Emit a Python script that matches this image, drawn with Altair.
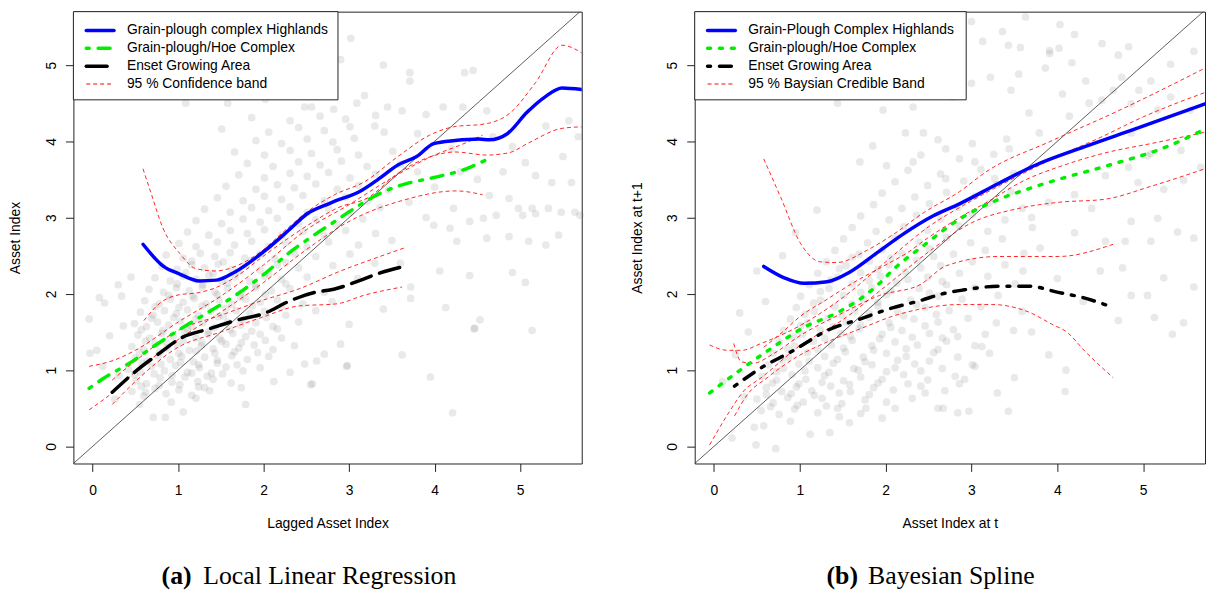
import altair as alt
import pandas as pd

# ---------------------------------------------------------------
# values (x, y) -- panel (a) local linear fit
# ---------------------------------------------------------------
LLR_HIGHLANDS = [(0.59, 2.65), (0.83, 2.36), (1.02, 2.26), (1.25, 2.17), (1.45, 2.18), (1.67, 2.29),
                 (2.02, 2.57), (2.29, 2.83), (2.51, 3.05), (2.78, 3.19), (3.15, 3.36), (3.35, 3.51),
                 (3.57, 3.69), (3.79, 3.80), (3.99, 3.97), (4.24, 4.01), (4.52, 4.03), (4.64, 4.02),
                 (4.85, 4.10), (5.08, 4.38), (5.30, 4.59), (5.49, 4.70), (5.72, 4.68)]
LLR_HOE = [(-0.04, 0.76), (0.14, 0.90), (0.43, 1.09), (0.74, 1.33), (1.00, 1.52), (1.31, 1.73),
           (1.56, 1.90), (1.76, 2.05), (2.02, 2.27), (2.29, 2.53), (2.55, 2.74), (2.82, 2.94),
           (3.13, 3.17), (3.35, 3.31), (3.62, 3.43), (3.97, 3.52), (4.37, 3.64), (4.59, 3.75)]
LLR_ENSET = [(0.23, 0.71), (0.52, 1.00), (0.78, 1.22), (1.05, 1.43), (1.36, 1.54), (1.67, 1.65),
             (2.02, 1.75), (2.29, 1.90), (2.60, 2.02), (2.82, 2.06), (3.09, 2.16), (3.35, 2.27),
             (3.64, 2.36)]

LLR_BANDS = {
    "hi_up": [(0.59, 3.64), (0.69, 3.30), (0.82, 2.87), (1.02, 2.53), (1.21, 2.33), (1.44, 2.30),
              (1.71, 2.38), (1.94, 2.53), (2.25, 2.83), (2.49, 3.06), (2.83, 3.30), (3.18, 3.47),
              (3.57, 3.80), (3.94, 4.08), (4.22, 4.19), (4.60, 4.23), (4.87, 4.36), (5.18, 4.77),
              (5.49, 5.26), (5.72, 5.16)],
    "hi_lo": [(0.60, 1.65), (0.79, 1.88), (1.02, 1.99), (1.21, 2.01), (1.48, 2.10), (1.71, 2.25),
              (1.98, 2.48), (2.25, 2.70), (2.56, 2.93), (2.87, 3.13), (3.22, 3.26), (3.57, 3.58),
              (3.93, 3.79), (4.24, 3.86), (4.61, 3.82), (4.87, 3.85), (5.10, 3.98), (5.49, 4.17),
              (5.72, 4.19)],
    "hoe_up": [(-0.04, 1.05), (0.25, 1.13), (0.50, 1.26), (1.00, 1.63), (1.50, 1.97), (2.00, 2.38),
               (2.50, 2.84), (3.00, 3.17), (3.50, 3.52), (4.02, 3.83), (4.30, 3.95), (4.56, 4.08)],
    "hoe_lo": [(-0.04, 0.48), (0.25, 0.72), (0.50, 0.98), (1.00, 1.40), (1.50, 1.76), (2.00, 2.15),
               (2.50, 2.58), (3.00, 2.95), (3.64, 3.23), (4.25, 3.35), (4.56, 3.30)],
    "en_up": [(0.23, 0.87), (0.50, 1.12), (1.00, 1.52), (1.50, 1.72), (2.00, 1.92), (2.40, 2.06),
              (2.90, 2.30), (3.26, 2.45), (3.64, 2.60)],
    "en_lo": [(0.23, 0.55), (0.50, 0.85), (1.00, 1.30), (1.50, 1.50), (2.00, 1.70), (2.40, 1.84),
              (2.86, 1.87), (3.17, 1.98), (3.62, 2.09)],
}

LLR_CLOUD = [
    (-0.04, 1.67), (-0.03, 1.22), (0.05, 1.26), (0.14, 1.88), (0.34, 1.97), (0.08, 1.95), (0.20, 1.45),
    (0.26, 0.62), (0.36, 1.58), (0.30, 2.12), (0.45, 2.22), (0.12, 1.05), (0.31, 0.93),
    (0.71, 0.38), (0.85, 0.38), (1.06, 0.45), (1.79, 0.55), (2.12, 0.85), (1.74, 0.77), (1.37, 0.73),
    (0.55, 0.55), (0.62, 0.71), (0.92, 0.58), (1.21, 0.63), (2.55, 0.81), (2.97, 1.05), (3.62, 1.20),
    (3.95, 0.91), (4.21, 0.44), (4.46, 1.54), (5.14, 1.52), (4.13, 1.82), (2.31, 0.97), (2.62, 1.12),
    (0.46, 0.72), (0.60, 0.66), (0.73, 0.76), (0.86, 0.69), (1.01, 0.74), (1.16, 0.67), (1.31, 0.77),
    (0.51, 0.86), (0.63, 0.82), (0.79, 0.90), (0.93, 0.84), (1.08, 0.91), (1.23, 0.85), (1.41, 0.88), (1.62, 0.83),
    (0.42, 1.01), (0.56, 0.97), (0.69, 1.05), (0.84, 0.99), (0.97, 1.06), (1.11, 0.97), (1.25, 1.03),
    (1.39, 0.96), (1.56, 1.04), (1.76, 0.99), (1.96, 1.03),
    (0.50, 1.16), (0.64, 1.12), (0.77, 1.19), (0.91, 1.14), (1.04, 1.18), (1.18, 1.11), (1.31, 1.17),
    (1.46, 1.13), (1.63, 1.19), (1.81, 1.14), (2.06, 1.18),
    (0.46, 1.31), (0.60, 1.27), (0.73, 1.34), (0.87, 1.29), (0.99, 1.33), (1.13, 1.26), (1.27, 1.32),
    (1.41, 1.28), (1.56, 1.34), (1.71, 1.29), (1.89, 1.33), (2.11, 1.27), (2.36, 1.32),
    (0.53, 1.46), (0.67, 1.42), (0.81, 1.48), (0.94, 1.44), (1.08, 1.49), (1.21, 1.42), (1.35, 1.47),
    (1.49, 1.41), (1.64, 1.48), (1.79, 1.44), (1.96, 1.47), (2.21, 1.42),
    (0.49, 1.61), (0.63, 1.57), (0.76, 1.63), (0.89, 1.59), (1.03, 1.64), (1.16, 1.57), (1.29, 1.62),
    (1.43, 1.56), (1.58, 1.63), (1.73, 1.59), (1.91, 1.62), (2.11, 1.57), (2.41, 1.63),
    (0.56, 1.76), (0.71, 1.72), (0.84, 1.78), (0.98, 1.74), (1.11, 1.79), (1.24, 1.72), (1.38, 1.77),
    (1.53, 1.71), (1.68, 1.78), (1.84, 1.74), (2.01, 1.77), (2.26, 1.72), (2.61, 1.78),
    (0.61, 1.91), (0.78, 1.87), (0.91, 1.93), (1.06, 1.89), (1.19, 1.94), (1.33, 1.87), (1.48, 1.92),
    (1.63, 1.86), (1.79, 1.93), (1.96, 1.89), (2.16, 1.92), (2.46, 1.87),
    (0.66, 2.06), (0.83, 2.02), (0.98, 2.08), (1.13, 2.04), (1.28, 2.09), (1.43, 2.02), (1.58, 2.07),
    (1.74, 2.01), (1.91, 2.08), (2.09, 2.04), (2.31, 2.07), (2.71, 2.02),
    (0.73, 2.21), (0.91, 2.17), (1.06, 2.23), (1.21, 2.19), (1.36, 2.24), (1.51, 2.17), (1.67, 2.22),
    (1.84, 2.16), (2.01, 2.23), (2.21, 2.19), (2.51, 2.22),
    (0.81, 2.36), (0.99, 2.32), (1.16, 2.38), (1.31, 2.34), (1.47, 2.39), (1.63, 2.32), (1.79, 2.37),
    (1.96, 2.31), (2.16, 2.38), (2.41, 2.34), (2.81, 2.37),
    (0.86, 2.51), (1.06, 2.47), (1.26, 2.53), (1.43, 2.49), (1.61, 2.54), (1.78, 2.47), (1.96, 2.52),
    (2.13, 2.46), (2.36, 2.53), (2.61, 2.49), (3.01, 2.52),
    (0.57, 0.79), (0.78, 0.80), (1.02, 0.81), (1.24, 0.78),
    (0.49, 0.94), (0.72, 0.95), (0.93, 0.93), (1.16, 0.96), (1.34, 0.92), (1.52, 0.95),
    (0.58, 1.09), (0.80, 1.08), (1.03, 1.10), (1.24, 1.07), (1.46, 1.09), (1.69, 1.07),
    (0.55, 1.23), (0.79, 1.24), (1.01, 1.22), (1.21, 1.25), (1.43, 1.22), (1.66, 1.24), (1.93, 1.23),
    (0.62, 1.38), (0.86, 1.37), (1.06, 1.39), (1.28, 1.36), (1.51, 1.38), (1.74, 1.36), (2.02, 1.39),
    (0.57, 1.53), (0.82, 1.52), (1.11, 1.54), (1.36, 1.51), (1.61, 1.53), (1.86, 1.51), (2.16, 1.54),
    (0.69, 1.68), (0.95, 1.69), (1.21, 1.67), (1.47, 1.70), (1.76, 1.66), (2.03, 1.69),
    (0.73, 1.83), (1.01, 1.82), (1.28, 1.84), (1.56, 1.81), (1.87, 1.84), (2.21, 1.82),
    (0.89, 1.98), (1.17, 1.97), (1.46, 1.99), (1.73, 1.96), (2.02, 1.99),
    (0.99, 2.13), (1.29, 2.12), (1.58, 2.14), (1.91, 2.11), (2.26, 2.13),
    (1.09, 2.28), (1.41, 2.27), (1.71, 2.29), (2.06, 2.26),
    (1.16, 2.43), (1.53, 2.42), (1.86, 2.44), (2.26, 2.41),
    (1.01, 2.66), (1.21, 2.62), (1.46, 2.68), (1.66, 2.64), (1.86, 2.69), (2.06, 2.62), (2.26, 2.67),
    (2.51, 2.61), (2.76, 2.68), (3.11, 2.64),
    (1.11, 2.81), (1.36, 2.77), (1.61, 2.83), (1.81, 2.79), (2.01, 2.84), (2.21, 2.77), (2.46, 2.82),
    (2.71, 2.76), (2.96, 2.83), (3.31, 2.79),
    (1.21, 2.96), (1.51, 2.92), (1.76, 2.98), (1.96, 2.94), (2.16, 2.99), (2.41, 2.92), (2.61, 2.97),
    (2.86, 2.91), (3.16, 2.98),
    (1.31, 3.11), (1.61, 3.07), (1.86, 3.13), (2.06, 3.09), (2.31, 3.14), (2.51, 3.07), (2.76, 3.12),
    (3.01, 3.06), (3.36, 3.13),
    (1.46, 3.26), (1.76, 3.22), (2.01, 3.28), (2.21, 3.24), (2.46, 3.29), (2.71, 3.22), (2.96, 3.27),
    (3.21, 3.21),
    (1.56, 3.41), (1.91, 3.37), (2.16, 3.43), (2.36, 3.39), (2.61, 3.44), (2.86, 3.37), (3.11, 3.42),
    (3.46, 3.36),
    (1.71, 3.56), (2.01, 3.52), (2.31, 3.58), (2.51, 3.54), (2.76, 3.59), (3.01, 3.52), (3.31, 3.57),
    (1.81, 3.71), (2.11, 3.67), (2.41, 3.73), (2.66, 3.69), (2.91, 3.74), (3.21, 3.67),
    (1.66, 3.86), (2.01, 3.82), (2.31, 3.88), (2.56, 3.84), (2.86, 3.89), (3.11, 3.82), (3.51, 3.87),
    (1.91, 4.01), (2.21, 3.97), (2.51, 4.03), (2.81, 3.99), (3.06, 4.04),
    (1.51, 4.16), (2.06, 4.12), (2.41, 4.18), (2.71, 4.14), (3.01, 4.19), (3.41, 4.12),
    (1.86, 4.31), (2.31, 4.27), (2.66, 4.33), (2.96, 4.29), (3.31, 4.34),
    (1.09, 4.50), (1.58, 4.50), (2.02, 4.55), (2.56, 4.45), (2.82, 4.42), (3.09, 4.50), (3.45, 4.45),
    (3.62, 4.40), (3.02, 5.35), (2.90, 5.07), (3.71, 4.90), (3.71, 4.79), (4.35, 4.90), (4.45, 4.93),
    (3.18, 4.60), (2.48, 4.45), (4.10, 4.45), (4.33, 4.45), (4.61, 4.40), (2.30, 4.75), (1.70, 4.70),
    (2.70, 4.85), (3.40, 5.00), (2.00, 5.05), (3.30, 4.20), (3.90, 4.35),
    (5.57, 4.27), (5.68, 4.06), (4.68, 4.06), (4.91, 3.93), (5.06, 3.72), (5.18, 3.55), (5.37, 3.46),
    (5.60, 3.46), (4.64, 3.29), (4.87, 3.25), (4.98, 3.12), (5.14, 3.12), (5.18, 3.05), (5.33, 3.12),
    (5.48, 3.07), (5.64, 3.07), (5.70, 3.03), (4.22, 3.12), (4.41, 2.95), (4.57, 2.99), (4.72, 3.03),
    (5.03, 3.03), (3.99, 2.90), (4.18, 2.86), (4.26, 2.69), (4.61, 2.73), (4.87, 2.75), (5.10, 2.69),
    (5.30, 2.64), (5.45, 2.77), (4.06, 2.30), (4.41, 2.24), (4.91, 2.28), (5.06, 2.15), (4.53, 1.66),
    (4.47, 1.55), (3.72, 2.09), (3.72, 1.94), (2.98, 1.06), (2.57, 0.82),
    (2.48, 1.08), (2.90, 1.34), (2.71, 1.21), (3.60, 3.70), (3.80, 3.60), (4.00, 3.40), (3.70, 3.20),
    (3.90, 3.00), (3.50, 2.70), (3.30, 2.40), (3.10, 2.20), (3.40, 1.80), (3.00, 1.60), (2.80, 1.90),
    (3.60, 2.40), (4.30, 3.60), (4.50, 3.50), (3.80, 4.10), (4.20, 3.90), (5.30, 4.20), (5.50, 3.80),
    (4.80, 3.60),
]

# ---------------------------------------------------------------
# panel (b) bayesian spline
# ---------------------------------------------------------------
BS_HIGHLANDS = [(0.58, 2.36), (0.82, 2.21), (1.05, 2.14), (1.32, 2.16), (1.59, 2.29), (1.89, 2.53),
                (2.20, 2.78), (2.55, 3.02), (2.86, 3.18), (3.32, 3.45), (3.73, 3.68), (4.32, 3.93),
                (4.90, 4.16), (5.72, 4.49)]
BS_HOE = [(-0.05, 0.70), (0.28, 0.98), (0.66, 1.28), (1.05, 1.56), (1.43, 1.75), (1.66, 1.90),
          (1.93, 2.14), (2.09, 2.32), (2.45, 2.64), (2.86, 2.98), (3.32, 3.24), (3.67, 3.38),
          (4.01, 3.50), (4.55, 3.67), (5.32, 3.95), (5.72, 4.16)]
BS_ENSET = [(0.24, 0.79), (0.55, 1.03), (0.93, 1.26), (1.32, 1.52), (1.70, 1.67), (2.09, 1.82),
            (2.40, 1.91), (2.66, 2.00), (2.90, 2.05), (3.32, 2.10), (3.67, 2.10), (4.01, 2.02),
            (4.30, 1.95), (4.58, 1.85)]

BS_BANDS = {
    "hi_up": [(0.58, 3.77), (0.78, 3.26), (1.01, 2.66), (1.24, 2.42), (1.43, 2.41), (1.78, 2.57),
              (2.09, 2.78), (2.45, 3.07), (2.86, 3.34), (3.17, 3.60), (3.94, 4.01), (4.71, 4.40),
              (5.72, 4.96)],
    "hi_lo": [(0.58, 1.30), (0.80, 1.50), (1.00, 1.70), (1.32, 1.93), (1.60, 2.13), (2.00, 2.38),
              (2.24, 2.53), (2.50, 2.74), (2.86, 3.00), (3.24, 3.24), (3.55, 3.45), (4.11, 3.70),
              (4.60, 3.86), (5.09, 3.97), (5.72, 4.12)],
    "hoe_up": [(-0.05, 1.33), (0.16, 1.26), (0.32, 1.26), (0.55, 1.35), (0.93, 1.54), (1.50, 1.95),
               (2.00, 2.42), (2.50, 2.88), (3.00, 3.22), (3.50, 3.52), (4.00, 3.80), (4.50, 4.05),
               (5.00, 4.32), (5.72, 4.64)],
    "hoe_lo": [(-0.05, 0.02), (0.16, 0.42), (0.35, 0.73), (0.55, 0.90), (1.00, 1.32), (1.50, 1.66),
               (2.00, 2.10), (2.50, 2.55), (2.98, 2.92), (3.55, 3.12), (4.01, 3.20), (4.55, 3.24),
               (5.09, 3.41), (5.72, 3.64)],
    "en_up": [(0.23, 1.35), (0.32, 1.11), (0.45, 1.09), (0.70, 1.22), (1.00, 1.45), (1.50, 1.75),
              (1.93, 1.98), (2.40, 2.12), (2.71, 2.37), (3.32, 2.49), (4.01, 2.49), (4.65, 2.65)],
    "en_lo": [(0.24, 0.40), (0.39, 0.68), (0.62, 0.90), (0.93, 1.15), (1.32, 1.37), (1.70, 1.54),
              (2.09, 1.71), (2.40, 1.80), (2.86, 1.86), (3.24, 1.86), (3.67, 1.76), (3.94, 1.60),
              (4.11, 1.50), (4.32, 1.25), (4.65, 0.90)],
}

BS_CLOUD = [
    (0.49, 0.02), (0.72, -0.03), (0.21, 0.11), (0.47, 0.25), (0.58, 0.27), (0.89, 0.33), (1.12, 0.16),
    (1.35, 0.18), (1.58, 0.31), (1.46, 0.39), (1.77, 0.50), (1.96, 0.37), (2.11, 0.50), (2.46, 0.70),
    (2.61, 0.50), (2.84, 0.44), (2.92, 0.88), (3.04, 1.05), (3.12, 1.31), (2.84, 1.44), (0.10, 0.85),
    (0.25, 1.20), (0.35, 0.65), (0.40, 1.50), (0.60, 1.90), (0.30, 1.75), (0.80, 2.50), (0.50, 2.30),
    (0.95, 2.80), (1.20, 3.10), (4.09, 0.72), (2.97, 0.46), (2.67, 0.50), (2.86, 0.82), (3.43, 0.46),
    (0.55, 0.47), (0.76, 0.42), (0.94, 0.49), (1.21, 0.44), (1.44, 0.50), (1.71, 0.43),
    (0.50, 0.62), (0.69, 0.57), (0.86, 0.64), (1.04, 0.58), (1.26, 0.63), (1.49, 0.56), (1.76, 0.61),
    (2.01, 0.58), (2.31, 0.63),
    (0.61, 0.77), (0.79, 0.72), (0.96, 0.78), (1.14, 0.73), (1.36, 0.79), (1.59, 0.72), (1.86, 0.77),
    (2.09, 0.74), (2.41, 0.79), (2.69, 0.73),
    (0.56, 0.92), (0.73, 0.87), (0.91, 0.94), (1.07, 0.88), (1.29, 0.93), (1.51, 0.86), (1.71, 0.91),
    (1.96, 0.88), (2.21, 0.94), (2.49, 0.87), (2.81, 0.92),
    (0.63, 1.07), (0.81, 1.02), (0.99, 1.08), (1.21, 1.03), (1.39, 1.09), (1.63, 1.02), (1.84, 1.07),
    (2.11, 1.03), (2.34, 1.08), (2.66, 1.02), (3.01, 1.07),
    (0.69, 1.22), (0.87, 1.17), (1.09, 1.23), (1.29, 1.18), (1.53, 1.24), (1.74, 1.17), (2.01, 1.22),
    (2.24, 1.18), (2.56, 1.23), (2.84, 1.17), (3.21, 1.22),
    (0.76, 1.37), (0.94, 1.32), (1.16, 1.38), (1.37, 1.33), (1.61, 1.39), (1.84, 1.32), (2.11, 1.37),
    (2.37, 1.33), (2.71, 1.38), (3.04, 1.32),
    (0.81, 1.52), (1.03, 1.47), (1.24, 1.53), (1.48, 1.48), (1.69, 1.54), (1.96, 1.47), (2.19, 1.52),
    (2.51, 1.48), (2.79, 1.53), (3.16, 1.47), (3.49, 1.52),
    (0.89, 1.67), (1.09, 1.62), (1.33, 1.68), (1.54, 1.63), (1.81, 1.69), (2.04, 1.62), (2.33, 1.67),
    (2.61, 1.63), (2.96, 1.68), (3.29, 1.62),
    (0.96, 1.82), (1.17, 1.77), (1.41, 1.83), (1.64, 1.78), (1.91, 1.84), (2.14, 1.77), (2.46, 1.82),
    (2.74, 1.78), (3.11, 1.83), (3.59, 1.77),
    (1.01, 1.97), (1.24, 1.92), (1.51, 1.98), (1.74, 1.93), (2.01, 1.99), (2.29, 1.92), (2.61, 1.97),
    (2.89, 1.93), (3.31, 1.98),
    (1.11, 2.12), (1.34, 2.07), (1.61, 2.13), (1.84, 2.08), (2.13, 2.14), (2.39, 2.07), (2.71, 2.12),
    (3.04, 2.08), (3.51, 2.13),
    (1.21, 2.27), (1.44, 2.22), (1.71, 2.28), (1.94, 2.23), (2.23, 2.29), (2.49, 2.22), (2.86, 2.27),
    (3.19, 2.23),
    (1.31, 2.42), (1.54, 2.37), (1.81, 2.43), (2.04, 2.38), (2.36, 2.44), (2.64, 2.37), (3.01, 2.42),
    (3.39, 2.38),
    (1.41, 2.57), (1.69, 2.52), (1.96, 2.58), (2.19, 2.53), (2.51, 2.59), (2.79, 2.52), (3.16, 2.57),
    (3.61, 2.53),
    (1.51, 2.72), (1.79, 2.67), (2.11, 2.73), (2.39, 2.68), (2.71, 2.74), (2.99, 2.67), (3.36, 2.72),
    (1.61, 2.87), (1.89, 2.82), (2.21, 2.88), (2.49, 2.83), (2.86, 2.89), (3.19, 2.82), (3.71, 2.87),
    (1.71, 3.02), (2.04, 2.97), (2.36, 3.03), (2.64, 2.98), (3.01, 3.04), (3.39, 2.97),
    (1.86, 3.17), (2.19, 3.12), (2.51, 3.18), (2.84, 3.13), (3.21, 3.19), (3.59, 3.12),
    (1.96, 3.32), (2.34, 3.27), (2.71, 3.33), (3.04, 3.28), (3.46, 3.34),
    (2.11, 3.47), (2.49, 3.42), (2.91, 3.48), (3.29, 3.43),
    (2.26, 3.62), (2.64, 3.57), (3.11, 3.63), (3.49, 3.58),
    (2.41, 3.82), (2.86, 3.77), (3.26, 3.83),
    (2.61, 4.02), (3.01, 3.97), (3.41, 4.03),
    (0.66, 0.52), (0.97, 0.54), (1.31, 0.53),
    (0.61, 0.68), (0.90, 0.69), (1.17, 0.67), (1.46, 0.70), (1.81, 0.68),
    (0.68, 0.83), (0.99, 0.82), (1.26, 0.84), (1.58, 0.81), (1.91, 0.83), (2.26, 0.82),
    (0.73, 0.98), (1.06, 0.99), (1.34, 0.97), (1.68, 1.00), (2.01, 0.98), (2.41, 0.99),
    (0.79, 1.13), (1.11, 1.12), (1.44, 1.14), (1.76, 1.11), (2.14, 1.13), (2.51, 1.12),
    (0.86, 1.28), (1.21, 1.27), (1.51, 1.29), (1.86, 1.26), (2.24, 1.28), (2.61, 1.27),
    (0.93, 1.43), (1.29, 1.42), (1.59, 1.44), (1.93, 1.41), (2.31, 1.43), (2.66, 1.42),
    (1.01, 1.58), (1.39, 1.57), (1.71, 1.59), (2.06, 1.56), (2.46, 1.58),
    (1.06, 1.73), (1.49, 1.72), (1.81, 1.74), (2.21, 1.71), (2.59, 1.73),
    (1.16, 1.88), (1.61, 1.87), (1.91, 1.89), (2.36, 1.86),
    (1.24, 2.03), (1.71, 2.02), (2.06, 2.04), (2.51, 2.01),
    (1.36, 2.18), (1.81, 2.17), (2.26, 2.19), (2.66, 2.16),
    (1.46, 2.33), (1.91, 2.32), (2.41, 2.34),
    (1.61, 2.48), (2.06, 2.47), (2.56, 2.49),
    (4.71, 1.65), (4.86, 1.98), (5.05, 1.98), (5.13, 1.69), (5.34, 1.47), (5.47, 1.62), (5.59, 2.09),
    (5.24, 2.21), (4.76, 2.34), (5.09, 2.69), (4.79, 2.69), (5.17, 2.99), (5.40, 2.81), (5.59, 2.73),
    (4.86, 2.95), (4.56, 2.69), (4.40, 3.12), (4.94, 3.46), (5.24, 3.37), (5.47, 3.49), (5.67, 3.66),
    (5.44, 3.88), (5.09, 3.84), (4.83, 3.66), (4.56, 3.55),
    (3.60, 2.30), (3.80, 2.60), (4.00, 2.20), (4.20, 2.80), (3.70, 1.50), (3.90, 1.20), (4.30, 1.90),
    (4.10, 1.00), (3.50, 0.90), (3.30, 0.70), (4.50, 2.30), (3.90, 3.20), (4.20, 3.30), (3.70, 3.00),
    (3.91, 5.15), (4.02, 5.22), (4.52, 5.28), (4.71, 5.13), (4.83, 5.24), (4.17, 5.03), (3.86, 4.96),
    (3.55, 4.88), (3.43, 5.26), (3.63, 5.63), (2.82, 5.54), (4.06, 4.62), (4.52, 4.54), (4.75, 4.84),
    (4.86, 4.49), (5.09, 4.79), (5.32, 5.01), (5.59, 5.18), (5.55, 4.41), (5.32, 4.58), (4.33, 4.79),
    (3.00, 5.57), (3.13, 5.31), (3.36, 5.44), (4.03, 5.53), (4.20, 5.40), (3.91, 5.19), (3.57, 5.23),
    (1.44, 4.50), (1.97, 4.41), (2.32, 4.45), (2.44, 4.11), (2.78, 4.58), (3.00, 4.76), (3.22, 4.84),
    (3.46, 4.67), (3.67, 4.37), (2.70, 3.90), (2.23, 4.11), (1.85, 3.94), (1.70, 3.73), (2.01, 3.68),
    (2.32, 3.73), (2.70, 3.51), (3.04, 3.73), (3.27, 3.51), (3.44, 3.90), (3.79, 4.11), (4.14, 4.33),
    (4.37, 4.50), (4.65, 4.67), (4.95, 4.67), (5.17, 4.41), (4.86, 4.11), (5.05, 3.81),
]

TICKS = [0, 1, 2, 3, 4, 5]
DIAG = [-0.5, 6.0]

SANS = "Liberation Sans"
SERIF = "Liberation Serif"
W_LEFT, W_RIGHT, H = 513, 515, 456


def to_df(pts, name="c"):
    return pd.DataFrame({"x": [p[0] for p in pts], "y": [p[1] for p in pts], "curve": name})


def panel(cloud, fits, bands, xtitle, ytitle, legend, legend_w, tag, caption, cap_x, width):
    xs = alt.Scale(domain=[-0.224, 5.72], nice=False, zero=False)
    ys = alt.Scale(domain=[-0.224, 5.70], nice=False, zero=False)
    xax = alt.Axis(title=xtitle, values=TICKS, grid=False, domain=False, tickSize=8,
                   tickColor="#222", labelPadding=12, titlePadding=20, labelFlush=False)
    yax = alt.Axis(title=ytitle, values=TICKS, grid=False, domain=False, tickSize=8,
                   tickColor="#222", labelAngle=270, labelAlign="center", labelBaseline="bottom",
                   labelPadding=7, titlePadding=22, labelFlush=False)
    X = alt.X("x:Q", scale=xs, axis=xax)
    Y = alt.Y("y:Q", scale=ys, axis=yax)

    layers = [
        alt.Chart(to_df(cloud)).mark_circle(size=60, color="#7a7a7a", opacity=0.17).encode(x=X, y=Y),
        alt.Chart(pd.DataFrame({"x": DIAG, "y": DIAG})).mark_line(
            color="#333333", strokeWidth=0.8, clip=True).encode(x=X, y=Y),
    ]
    band_df = pd.concat([to_df(v, k) for k, v in bands.items()])
    layers.append(alt.Chart(band_df).mark_line(
        color="#ff0000", strokeWidth=1, strokeDash=[4, 3], clip=True, interpolate="monotone",
        opacity=0.85).encode(x=X, y=Y, detail="curve:N"))
    for pts, color, dash in fits:
        kw = dict(color=color, strokeWidth=3.5, clip=True, interpolate="monotone", strokeCap="round")
        if dash:
            kw["strokeDash"] = dash
        layers.append(alt.Chart(to_df(pts)).mark_line(**kw).encode(x=X, y=Y))

    # legend box drawn the way R's legend() does it
    one = pd.DataFrame({"k": [0]})
    layers.append(alt.Chart(one).mark_rect(fill="white", stroke="#222", strokeWidth=1).encode(
        x=alt.value(0), x2=alt.value(legend_w), y=alt.value(0), y2=alt.value(89)))
    for i, (label, color, sw, dash) in enumerate(legend):
        row = 19 + 18 * i
        kw = dict(color=color, strokeWidth=sw, strokeCap="round" if sw > 2 else "butt")
        if dash:
            kw["strokeDash"] = dash
        layers.append(alt.Chart(one).mark_rule(**kw).encode(
            x=alt.value(13), x2=alt.value(41), y=alt.value(row)))
        layers.append(alt.Chart(one).mark_text(
            align="left", baseline="middle", font=SANS, fontSize=14, color="black").encode(
            x=alt.value(54), y=alt.value(row), text=alt.value(label)))

    # sub-figure caption
    layers.append(alt.Chart(one).mark_text(
        align="left", baseline="middle", font=SERIF, fontSize=26, fontWeight="bold").encode(
        x=alt.value(cap_x), y=alt.value(570), text=alt.value(tag)))
    layers.append(alt.Chart(one).mark_text(
        align="left", baseline="middle", font=SERIF, fontSize=26).encode(
        x=alt.value(cap_x + 42), y=alt.value(570), text=alt.value(caption)))

    return alt.layer(*layers).properties(width=width, height=H)


left = panel(
    LLR_CLOUD,
    [(LLR_HIGHLANDS, "#0000ff", None), (LLR_HOE, "#00ee00", [3, 9, 12, 9]),
     (LLR_ENSET, "#000000", [21, 9])],
    LLR_BANDS, "Lagged Asset Index", "Asset Index",
    [("Grain-plough complex Highlands", "#0000ff", 3.5, None),
     ("Grain-plough/Hoe Complex", "#00ee00", 3.5, [3, 9, 12, 9]),
     ("Enset Growing Area", "#000000", 3.5, [21, 9]),
     ("95 % Confidence band", "#ff0000", 1, [4, 3])],
    267, "(a)", "Local Linear Regression", 89, W_LEFT)

right = panel(
    BS_CLOUD,
    [(BS_HIGHLANDS, "#0000ff", None), (BS_HOE, "#00ee00", [3, 9]),
     (BS_ENSET, "#000000", [3, 9, 12, 9])],
    BS_BANDS, "Asset Index at t", "Asset Index at t+1",
    [("Grain-Plough Complex Highlands", "#0000ff", 3.5, None),
     ("Grain-plough/Hoe Complex", "#00ee00", 3.5, [3, 9]),
     ("Enset Growing Area", "#000000", 3.5, [3, 9, 12, 9]),
     ("95 % Baysian Credible Band", "#ff0000", 1, [4, 3])],
    274, "(b)", "Bayesian Spline", 133, W_RIGHT)

chart = alt.hconcat(left, right, spacing=45).properties(
    padding={"left": 0, "top": 0, "right": 0, "bottom": 0}
).configure_view(
    stroke="#222222", strokeWidth=1
).configure_axis(
    labelFont=SANS, titleFont=SANS, labelFontSize=14, titleFontSize=14,
    titleFontWeight="normal", labelColor="black", titleColor="black"
)

chart.save("out.html", embed_options={"renderer": "svg", "actions": False})
